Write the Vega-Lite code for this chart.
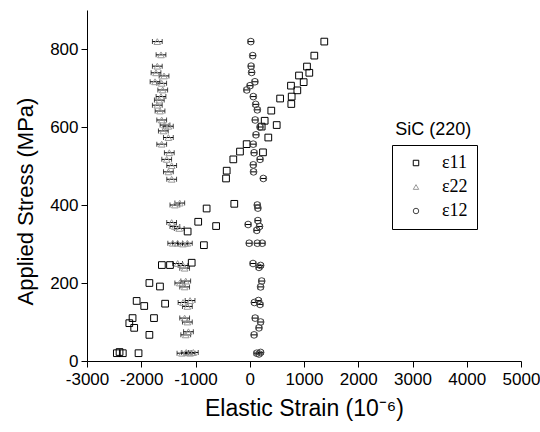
{
  "$schema": "https://vega.github.io/schema/vega-lite/v6.json",
  "width": 434,
  "height": 351,
  "autosize": {"type": "none"},
  "padding": {"left": 87, "top": 10, "right": 19, "bottom": 71},
  "background": "white",
  "config": {
    "view": {"stroke": null},
    "axis": {
      "grid": false,
      "domainColor": "black",
      "tickColor": "black",
      "labelColor": "black",
      "titleColor": "black",
      "labelFont": "Liberation Sans",
      "labelFontSize": 17,
      "titleFont": "Liberation Sans",
      "titleFontSize": 22,
      "titleFontWeight": "normal",
      "domainWidth": 1,
      "tickWidth": 1
    },
    "legend": {
      "title": null,
      "orient": "none",
      "legendX": 305,
      "legendY": 135,
      "strokeColor": "black",
      "padding": 9,
      "rowPadding": 6,
      "symbolSize": 30,
      "symbolOffset": 6,
      "labelOffset": 17,
      "labelFont": "Liberation Serif",
      "labelFontSize": 18,
      "labelColor": "black",
      "symbolStrokeWidth": 1
    }
  },
  "datasets": {
    "pts": [
      {"series": "ε11", "x": -2450, "y": 20}, {"series": "ε11", "x": -2400, "y": 23}, {"series": "ε11", "x": -2340, "y": 20}, {"series": "ε11", "x": -2050, "y": 20},
      {"series": "ε11", "x": -1850, "y": 67},
      {"series": "ε11", "x": -2160, "y": 110}, {"series": "ε11", "x": -2220, "y": 97}, {"series": "ε11", "x": -2130, "y": 85}, {"series": "ε11", "x": -1765, "y": 110},
      {"series": "ε11", "x": -2085, "y": 154}, {"series": "ε11", "x": -1945, "y": 141}, {"series": "ε11", "x": -1560, "y": 147},
      {"series": "ε11", "x": -1850, "y": 200}, {"series": "ε11", "x": -1655, "y": 191},
      {"series": "ε11", "x": -1620, "y": 246}, {"series": "ε11", "x": -1470, "y": 246}, {"series": "ε11", "x": -1070, "y": 252},
      {"series": "ε11", "x": -845, "y": 297},
      {"series": "ε11", "x": -1145, "y": 332}, {"series": "ε11", "x": -950, "y": 357}, {"series": "ε11", "x": -620, "y": 346},
      {"series": "ε11", "x": -795, "y": 391}, {"series": "ε11", "x": -285, "y": 403},
      {"series": "ε11", "x": -437, "y": 468}, {"series": "ε11", "x": -425, "y": 488}, {"series": "ε11", "x": -303, "y": 517}, {"series": "ε11", "x": -180, "y": 537},
      {"series": "ε11", "x": -57, "y": 556}, {"series": "ε11", "x": 244, "y": 535}, {"series": "ε11", "x": 342, "y": 573}, {"series": "ε11", "x": 220, "y": 601},
      {"series": "ε11", "x": 497, "y": 605}, {"series": "ε11", "x": 275, "y": 616}, {"series": "ε11", "x": 397, "y": 642}, {"series": "ε11", "x": 560, "y": 673},
      {"series": "ε11", "x": 766, "y": 659}, {"series": "ε11", "x": 773, "y": 678}, {"series": "ε11", "x": 877, "y": 694}, {"series": "ε11", "x": 760, "y": 706},
      {"series": "ε11", "x": 994, "y": 715}, {"series": "ε11", "x": 908, "y": 732}, {"series": "ε11", "x": 1098, "y": 739}, {"series": "ε11", "x": 1055, "y": 755},
      {"series": "ε11", "x": 1190, "y": 783}, {"series": "ε11", "x": 1374, "y": 819},

      {"series": "ε22", "x": -1704, "y": 819, "e": 90}, {"series": "ε22", "x": -1636, "y": 785, "e": 90}, {"series": "ε22", "x": -1704, "y": 756, "e": 90},
      {"series": "ε22", "x": -1728, "y": 739, "e": 90}, {"series": "ε22", "x": -1580, "y": 731, "e": 90}, {"series": "ε22", "x": -1746, "y": 716, "e": 90},
      {"series": "ε22", "x": -1623, "y": 712, "e": 90}, {"series": "ε22", "x": -1604, "y": 695, "e": 90}, {"series": "ε22", "x": -1636, "y": 678, "e": 90},
      {"series": "ε22", "x": -1667, "y": 669, "e": 90}, {"series": "ε22", "x": -1704, "y": 656, "e": 90}, {"series": "ε22", "x": -1654, "y": 641, "e": 90},
      {"series": "ε22", "x": -1623, "y": 618, "e": 90}, {"series": "ε22", "x": -1562, "y": 605, "e": 90}, {"series": "ε22", "x": -1500, "y": 602, "e": 90},
      {"series": "ε22", "x": -1593, "y": 590, "e": 90}, {"series": "ε22", "x": -1500, "y": 573, "e": 90}, {"series": "ε22", "x": -1623, "y": 556, "e": 90},
      {"series": "ε22", "x": -1483, "y": 534, "e": 90}, {"series": "ε22", "x": -1531, "y": 517, "e": 90}, {"series": "ε22", "x": -1439, "y": 501, "e": 90},
      {"series": "ε22", "x": -1500, "y": 485, "e": 90}, {"series": "ε22", "x": -1439, "y": 466, "e": 90},
      {"series": "ε22", "x": -1380, "y": 400, "e": 90}, {"series": "ε22", "x": -1290, "y": 405, "e": 90},
      {"series": "ε22", "x": -1440, "y": 355, "e": 90}, {"series": "ε22", "x": -1380, "y": 345, "e": 90}, {"series": "ε22", "x": -1300, "y": 340, "e": 90},
      {"series": "ε22", "x": -1420, "y": 302, "e": 90}, {"series": "ε22", "x": -1330, "y": 302, "e": 90}, {"series": "ε22", "x": -1230, "y": 300, "e": 90}, {"series": "ε22", "x": -1150, "y": 302, "e": 90},
      {"series": "ε22", "x": -1330, "y": 250, "e": 90}, {"series": "ε22", "x": -1230, "y": 245, "e": 90}, {"series": "ε22", "x": -1200, "y": 238, "e": 90},
      {"series": "ε22", "x": -1290, "y": 200, "e": 90}, {"series": "ε22", "x": -1200, "y": 190, "e": 90}, {"series": "ε22", "x": -1180, "y": 205, "e": 90},
      {"series": "ε22", "x": -1230, "y": 150, "e": 90}, {"series": "ε22", "x": -1150, "y": 140, "e": 90}, {"series": "ε22", "x": -1100, "y": 155, "e": 90},
      {"series": "ε22", "x": -1200, "y": 110, "e": 90}, {"series": "ε22", "x": -1150, "y": 100, "e": 90}, {"series": "ε22", "x": -1180, "y": 67, "e": 90}, {"series": "ε22", "x": -1130, "y": 75, "e": 90},
      {"series": "ε22", "x": -1250, "y": 20, "e": 90}, {"series": "ε22", "x": -1170, "y": 22, "e": 90}, {"series": "ε22", "x": -1100, "y": 20, "e": 90}, {"series": "ε22", "x": -1040, "y": 22, "e": 90},

      {"series": "ε12", "x": 20, "y": 819, "e": 50}, {"series": "ε12", "x": 55, "y": 783, "e": 50}, {"series": "ε12", "x": 25, "y": 756, "e": 50},
      {"series": "ε12", "x": 35, "y": 740, "e": 50}, {"series": "ε12", "x": 95, "y": 716, "e": 50}, {"series": "ε12", "x": 5, "y": 706, "e": 50},
      {"series": "ε12", "x": -55, "y": 695, "e": 50}, {"series": "ε12", "x": 65, "y": 678, "e": 50}, {"series": "ε12", "x": 110, "y": 658, "e": 50},
      {"series": "ε12", "x": 140, "y": 644, "e": 50}, {"series": "ε12", "x": 100, "y": 618, "e": 50}, {"series": "ε12", "x": 190, "y": 600, "e": 50},
      {"series": "ε12", "x": 115, "y": 580, "e": 50}, {"series": "ε12", "x": 65, "y": 556, "e": 50}, {"series": "ε12", "x": 80, "y": 534, "e": 50},
      {"series": "ε12", "x": 190, "y": 517, "e": 50}, {"series": "ε12", "x": 65, "y": 503, "e": 50}, {"series": "ε12", "x": 70, "y": 485, "e": 50},
      {"series": "ε12", "x": 250, "y": 468, "e": 50},
      {"series": "ε12", "x": 139, "y": 400, "e": 50}, {"series": "ε12", "x": 150, "y": 392, "e": 50},
      {"series": "ε12", "x": -30, "y": 350, "e": 50}, {"series": "ε12", "x": 150, "y": 360, "e": 50}, {"series": "ε12", "x": 130, "y": 335, "e": 50}, {"series": "ε12", "x": 180, "y": 345, "e": 50},
      {"series": "ε12", "x": -10, "y": 302, "e": 50}, {"series": "ε12", "x": 140, "y": 302, "e": 50}, {"series": "ε12", "x": 230, "y": 302, "e": 50},
      {"series": "ε12", "x": 60, "y": 250, "e": 50}, {"series": "ε12", "x": 200, "y": 245, "e": 50}, {"series": "ε12", "x": 170, "y": 240, "e": 50},
      {"series": "ε12", "x": 220, "y": 205, "e": 50}, {"series": "ε12", "x": 200, "y": 190, "e": 50},
      {"series": "ε12", "x": 85, "y": 150, "e": 50}, {"series": "ε12", "x": 190, "y": 145, "e": 50}, {"series": "ε12", "x": 160, "y": 155, "e": 50},
      {"series": "ε12", "x": 100, "y": 110, "e": 50}, {"series": "ε12", "x": 200, "y": 100, "e": 50}, {"series": "ε12", "x": 170, "y": 85, "e": 50}, {"series": "ε12", "x": 80, "y": 67, "e": 50},
      {"series": "ε12", "x": 130, "y": 20, "e": 50}, {"series": "ε12", "x": 200, "y": 22, "e": 50}, {"series": "ε12", "x": 170, "y": 18, "e": 50}
    ]
  },
  "layer": [
    {
      "data": {"name": "pts"},
      "transform": [{"filter": "isValid(datum.e)"}],
      "mark": {"type": "errorbar", "ticks": true, "color": "black", "thickness": 1},
      "encoding": {
        "x": {
          "field": "x", "type": "quantitative",
          "scale": {"domain": [-3000, 5000], "nice": false, "zero": false},
          "axis": {
            "title": "Elastic Strain (10⁻⁶)",
            "values": [-3000, -2500, -2000, -1500, -1000, -500, 0, 500, 1000, 1500, 2000, 2500, 3000, 3500, 4000, 4500, 5000],
            "labelExpr": "datum.value % 1000 === 0 ? '' + datum.value : ''",
            "tickSize": {"condition": {"test": "datum.value % 1000 === 0", "value": 6}, "value": 3},
            "labelPadding": 4,
            "titlePadding": 10,
            "titleFontSize": 23,
            "labelFlush": false,
            "labelOverlap": false
          }
        },
        "xError": {"field": "e"},
        "y": {
          "field": "y", "type": "quantitative",
          "scale": {"domain": [0, 900], "nice": false},
          "axis": {
            "title": "Applied Stress (MPa)",
            "values": [0, 100, 200, 300, 400, 500, 600, 700, 800, 900],
            "labelExpr": "datum.value % 200 === 0 ? '' + datum.value : ''",
            "tickSize": {"condition": {"test": "datum.value % 200 === 0", "value": 6}, "value": 3},
            "labelPadding": 3,
            "titlePadding": 12,
            "titleY": 191,
            "labelFlush": false,
            "labelOverlap": false
          }
        }
      }
    },
    {
      "data": {"name": "pts"},
      "mark": {"type": "point", "filled": false, "strokeWidth": 1, "size": 45, "opacity": 1},
      "encoding": {
        "x": {"field": "x", "type": "quantitative"},
        "y": {"field": "y", "type": "quantitative"},
        "shape": {
          "field": "series", "type": "nominal",
          "scale": {"domain": ["ε11", "ε22", "ε12"], "range": ["square", "triangle-up", "circle"]}
        },
        "color": {
          "field": "series", "type": "nominal",
          "scale": {"domain": ["ε11", "ε22", "ε12"], "range": ["black", "#999999", "#444444"]}
        }
      }
    },
    {
      "data": {"values": [{"label": "SiC (220)", "x": 2680, "y": 592}]},
      "mark": {"type": "text", "font": "Liberation Sans", "fontSize": 18, "color": "black", "align": "left", "baseline": "middle"},
      "encoding": {
        "x": {"field": "x", "type": "quantitative"},
        "y": {"field": "y", "type": "quantitative"},
        "text": {"field": "label"}
      }
    }
  ]
}
